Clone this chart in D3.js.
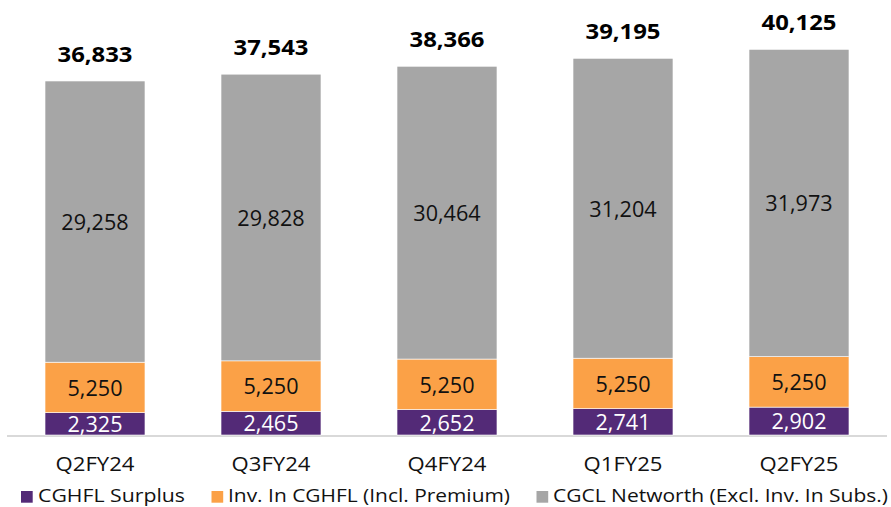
<!DOCTYPE html>
<html>
<head>
<meta charset="utf-8">
<script src="https://cdn.jsdelivr.net/npm/d3@7"></script>
<style>
  html, body { margin: 0; padding: 0; background: #fff; }
  svg { display: block; font-family: "Open Sans", Lato, sans-serif; }
</style>
</head>
<body>
<svg id="chart" width="891" height="507"></svg>
<script>
// Quarterly net worth breakdown (₹ crore)
const quarters = ["Q2FY24", "Q3FY24", "Q4FY24", "Q1FY25", "Q2FY25"];
const surplus = [2325, 2465, 2652, 2741, 2902];
const investment = [5250, 5250, 5250, 5250, 5250];
const networth = [29258, 29828, 30464, 31204, 31973];
const totals = [36833, 37543, 38366, 39195, 40125];

const seriesNames = ["CGHFL Surplus", "Inv. In CGHFL (Incl. Premium)", "CGCL Networth (Excl. Inv. In Subs.)"];
const seriesColors = ["#532a77", "#fba147", "#a6a6a6"];
const labelColors = ["#ffffff", "#111111", "#111111"];

const rows = quarters.map((q, i) => ({
  q, s0: surplus[i], s1: investment[i], s2: networth[i], total: totals[i]
}));
const keys = ["s0", "s1", "s2"];
const stacked = d3.stack().keys(keys)(rows);

const svg = d3.select("#chart");
const x = d3.scaleBand().domain(quarters).range([7, 887]).paddingInner(0.432).paddingOuter(0.216);
const y = d3.scaleLinear().domain([0, 45000]).range([435, 2.5]);
const fmt = d3.format(",");

// natural width of a string at a given size and weight
function measure(str, size, weight) {
  const t = svg.append("text").attr("font-size", size).attr("font-weight", weight || "normal").text(str);
  const w = t.node().getComputedTextLength();
  t.remove();
  return w;
}
// set the size, then squeeze or widen glyphs so a sample string spans the wanted width
function setType(sel, size, weight, sample, sampleWidth) {
  const k = sampleWidth / measure(sample, size, weight);
  sel.attr("font-size", size).attr("font-weight", weight || "normal");
  sel.each(function () {
    const w = this.getComputedTextLength();
    d3.select(this).attr("textLength", w * k).attr("lengthAdjust", "spacingAndGlyphs");
  });
}

// axis baseline
svg.append("line")
  .attr("x1", 7).attr("x2", 887)
  .attr("y1", 436).attr("y2", 436)
  .attr("stroke", "#d9d9d9").attr("stroke-width", 2);

const layers = svg.append("g").selectAll("g").data(stacked).join("g")
  .attr("fill", (d, i) => seriesColors[i]);

layers.selectAll("rect").data(d => d).join("rect")
  .attr("x", d => x(d.data.q))
  .attr("width", x.bandwidth())
  .attr("y", d => y(d[1]))
  .attr("height", d => y(d[0]) - y(d[1]))
  .attr("stroke", "#ffffff")
  .attr("stroke-width", 0.6);

// segment value labels
stacked.forEach((layer, li) => {
  svg.append("g").selectAll("text").data(layer).join("text")
    .attr("x", d => x(d.data.q) + x.bandwidth() / 2)
    .attr("y", d => (y(d[0]) + y(d[1])) / 2 + 8.3)
    .attr("text-anchor", "middle")
    .attr("fill", labelColors[li])
    .text(d => fmt(d[1] - d[0]))
    .call(setType, 22.5, "normal", "5,250", 55);
});

// totals above bars
svg.append("g").selectAll("text").data(rows).join("text")
  .attr("x", d => x(d.q) + x.bandwidth() / 2)
  .attr("y", d => y(d.total) - 19)
  .attr("text-anchor", "middle")
  .attr("fill", "#000")
  .text(d => fmt(d.total))
  .call(setType, 21.5, "bold", "36,833", 75);

// category axis
const xAxis = svg.append("g").attr("transform", "translate(0,436)")
  .call(d3.axisBottom(x).tickSize(0).tickPadding(0));
xAxis.select(".domain").remove();
xAxis.selectAll("text")
  .attr("dy", null).attr("y", 34.7)
  .attr("fill", "#111").attr("font-family", "'Open Sans', sans-serif")
  .call(setType, 19.6, "normal", "Q2FY24", 79);

// legend
const legendItems = [
  { x: 21, tx: 38, w: 147 },
  { x: 211.5, tx: 228, w: 282 },
  { x: 536.5, tx: 553, w: 335 }
];
const legend = svg.append("g");
legendItems.forEach((it, i) => {
  legend.append("rect").attr("x", it.x).attr("y", 491).attr("width", 11.7).attr("height", 11.7)
    .attr("fill", seriesColors[i]);
  legend.append("text").attr("x", it.tx).attr("y", 502.3)
    .attr("fill", "#111").text(seriesNames[i])
    .call(setType, 18.6, "normal", seriesNames[i], it.w);
});
</script>
</body>
</html>
